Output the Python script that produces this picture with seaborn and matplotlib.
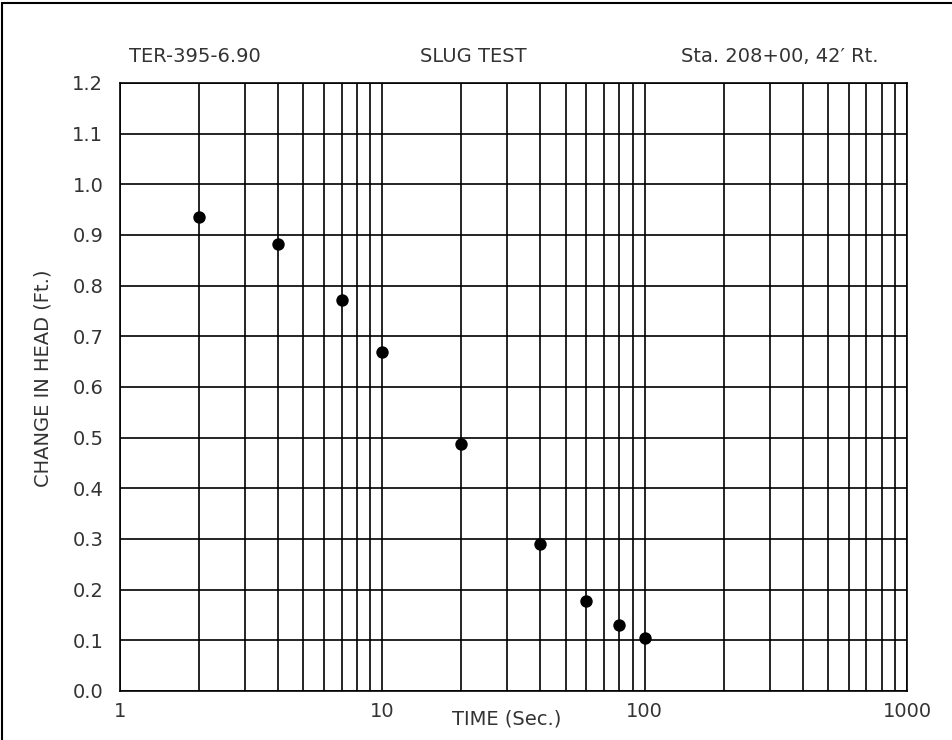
import matplotlib
matplotlib.use("Agg")
import matplotlib.pyplot as plt
import seaborn as sns
import pandas as pd
import numpy as np
from matplotlib.ticker import FixedLocator, NullFormatter
from matplotlib.patches import Rectangle

# Data
time_sec = [2, 4, 7, 10, 20, 40, 60, 80, 100]
head_ft = [0.936, 0.883, 0.771, 0.669, 0.488, 0.291, 0.178, 0.130, 0.104]
x_ticks = [1, 10, 100, 1000]
x_tick_labels = ["1", "10", "100", "1000"]
y_ticks = [round(0.1 * i, 1) for i in range(13)]
y_tick_labels = [f"{v:.1f}" for v in y_ticks]

df = pd.DataFrame({"time": time_sec, "head": head_ft})

sns.set_theme(style="white")
plt.rcParams['font.family'] = ['DejaVu Sans']
txt = "#333333"
fs = 14

fig = plt.figure(figsize=(9.53, 7.40), dpi=100)
ax = fig.add_axes([120/953, 1 - 691/740, (907-120)/953, (691-83)/740])

sns.scatterplot(data=df, x="time", y="head", ax=ax, color="black", s=80,
                edgecolor="black", linewidth=0, zorder=5, legend=False)

ax.set_xscale("log")
ax.set_xlim(1, 1000)
ax.set_ylim(0, 1.2)
ax.xaxis.set_major_locator(FixedLocator(x_ticks))
minor = [m * d for d in [1, 10, 100] for m in range(2, 10)]
ax.xaxis.set_minor_locator(FixedLocator(minor))
ax.xaxis.set_minor_formatter(NullFormatter())
ax.set_xticks(x_ticks)
ax.set_xticklabels(x_tick_labels)
ax.set_yticks(y_ticks)
ax.set_yticklabels(y_tick_labels)

ax.grid(True, which="both", axis="x", color="black", linewidth=1.2)
ax.grid(True, which="major", axis="y", color="black", linewidth=1.2)
for sp in ax.spines.values():
    sp.set_color("black")
    sp.set_linewidth(1.2)

ax.tick_params(axis="both", which="both", length=0, labelsize=fs, colors=txt)
ax.tick_params(axis="x", pad=8)
ax.tick_params(axis="y", pad=12)

ax.set_xlabel("")
ax.set_ylabel("")
fig.text(507/953, 1 - 719/740, "TIME (Sec.)", ha="center", va="center", fontsize=fs, color=txt)
fig.text(43/953, 1 - 378/740, "CHANGE IN HEAD (Ft.)", ha="center", va="center",
         rotation=90, fontsize=fs, color=txt)

fig.text(129/953, 1 - 56/740, "TER-395-6.90", ha="left", va="center", fontsize=fs, color=txt)
fig.text(473/953, 1 - 56/740, "SLUG TEST", ha="center", va="center", fontsize=fs, color=txt)
fig.text(879/953, 1 - 56/740, "Sta. 208+00, 42\u2032 Rt.", ha="right", va="center", fontsize=fs, color=txt)

fig.patches.append(Rectangle((2/953, -0.01), 1.02, 1 - 3/740 + 0.01, transform=fig.transFigure,
                             fill=False, edgecolor="black", linewidth=1.5))

fig.savefig("out.png", dpi=100)
